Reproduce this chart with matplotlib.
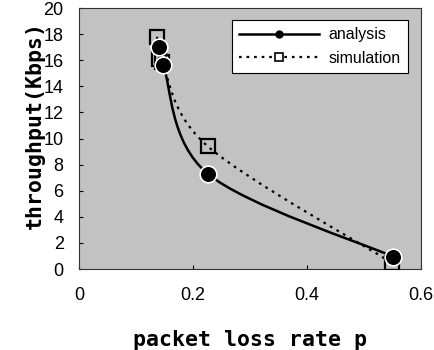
import numpy as np
import matplotlib
matplotlib.use("Agg")
import matplotlib.pyplot as plt
from matplotlib.path import Path
from matplotlib.patches import PathPatch
from matplotlib.lines import Line2D

# valores
analysis_p = [0.141, 0.148, 0.226, 0.551]
analysis_thr = [17.0, 15.6, 7.3, 0.95]
sim_p = [0.137, 0.141, 0.145, 0.226, 0.550]
sim_thr = [17.8, 16.1, 15.9, 9.4, 0.45]

x_ticks = [0, 0.2, 0.4, 0.6]
x_tick_labels = ["0", "0.2", "0.4", "0.6"]
y_ticks = list(range(0, 21, 2))


def curva_suave(xs, ys):
    # suavizado tipo Excel (Bezier con tangentes Catmull-Rom)
    pts = np.column_stack([xs, ys]).astype(float)
    n = len(pts)
    verts = [pts[0]]
    codes = [Path.MOVETO]
    for i in range(n - 1):
        p0 = pts[i - 1] if i > 0 else pts[i]
        p1 = pts[i]
        p2 = pts[i + 1]
        p3 = pts[i + 2] if i + 2 < n else pts[i + 1]
        c1 = p1 + (p2 - p0) / 6
        c2 = p2 - (p3 - p1) / 6
        verts += [c1, c2, p2]
        codes += [Path.CURVE4] * 3
    return Path(verts, codes)


fig = plt.figure(figsize=(4.35, 3.5), dpi=100)
ax = fig.add_axes([0.1816, 0.2314, 0.786, 0.7456])
ax.set_facecolor("#c2c2c2")

ax.add_patch(PathPatch(curva_suave(sim_p, sim_thr), fill=False, ec="black",
                       lw=1.6, ls=(0, (1.2, 2.2)), zorder=2))
ax.add_patch(PathPatch(curva_suave(analysis_p, analysis_thr), fill=False,
                       ec="black", lw=1.8, zorder=3))
ax.plot(sim_p, sim_thr, ls="none", marker="s", ms=10, mfc="none",
        mec="black", mew=1.6, zorder=4)
ax.plot(analysis_p, analysis_thr, ls="none", marker="o", ms=12, mfc="black",
        mec="white", mew=1.2, zorder=5)

ax.set_xlim(0, 0.6)
ax.set_ylim(0, 20)
ax.set_xticks(x_ticks)
ax.set_xticklabels(x_tick_labels)
ax.set_yticks(y_ticks)
ax.tick_params(direction="in", length=3, labelsize=13, width=0.8)
ax.tick_params(axis="x", pad=13)
ax.tick_params(axis="y", pad=11)
for lab in ax.get_xticklabels() + ax.get_yticklabels():
    lab.set_family("Liberation Sans")
for s in ax.spines.values():
    s.set_linewidth(0.8)
    s.set_color("#333333")

ax.set_xlabel("packet loss rate p", fontsize=15.5, fontweight="bold",
              family="DejaVu Sans Mono", va="center")
ax.set_ylabel("throughput(Kbps)", fontsize=15.5, fontweight="bold",
              family="DejaVu Sans Mono", va="center")
ax.xaxis.set_label_coords(0.5, -0.272)
ax.yaxis.set_label_coords(-0.128, 0.55)

h1 = Line2D([], [], color="black", lw=1.8, marker="o", ms=5)
h2 = Line2D([], [], color="black", lw=1.6, ls=(0, (1.2, 2.2)), marker="s",
            ms=6, mfc="white", mew=1.2)
leg = ax.legend([h1, h2], ["analysis", "simulation"], loc="upper right",
                bbox_to_anchor=(0.985, 0.985), fancybox=False, framealpha=1,
                edgecolor="black", handlelength=5.0,
                prop={"family": "Liberation Sans", "size": 11.5},
                borderpad=0.45, labelspacing=0.55, handletextpad=0.6)
leg.get_frame().set_linewidth(0.8)

fig.savefig("out.png", dpi=100)
